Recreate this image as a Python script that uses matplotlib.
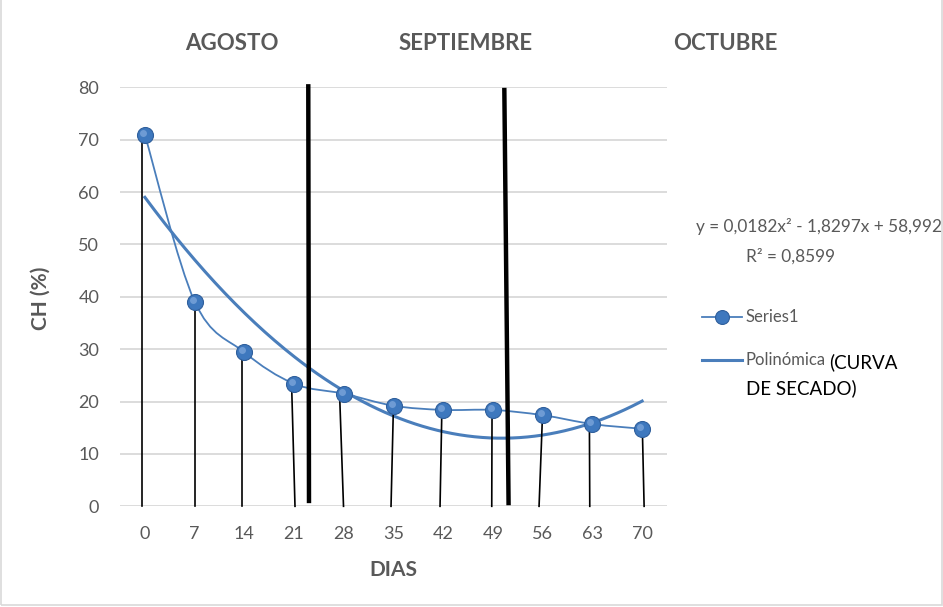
import numpy as np
import matplotlib
matplotlib.use('Agg')
import matplotlib.pyplot as plt
from matplotlib.path import Path
from matplotlib.patches import PathPatch, Rectangle
from matplotlib.lines import Line2D
from matplotlib.transforms import ScaledTranslation

plt.rcParams['font.family'] = ['Lato', 'DejaVu Sans']

# datos
dias = [0, 7, 14, 21, 28, 35, 42, 49, 56, 63, 70]
ch = [70.9, 39.1, 29.4, 23.4, 21.5, 19.2, 18.4, 18.4, 17.4, 15.7, 14.8]
coef = [0.0182, -1.8297, 58.992]  # y = 0,0182x2 - 1,8297x + 58,992
r2 = 0.8599
meses = ['AGOSTO', 'SEPTIEMBRE', 'OCTUBRE']

# lineas verticales dibujadas a mano (x arriba, x abajo)
caida_x_arriba = [-0.46, 7.0, 13.66, 20.66, 27.42, 34.98, 41.8, 48.87, 55.96, 62.58, 70.04]
caida_x_abajo = [-0.46, 7.0, 13.66, 21.13, 27.96, 34.65, 41.55, 48.83, 55.49, 62.63, 70.28]
sep_x_arriba = [23.0, 50.6]
sep_x_abajo = [23.1, 51.2]
sep_y_arriba = [80.6, 79.9]
sep_y_abajo = [0.6, 0.2]

azul = '#4A7EBB'
gris = '#595959'

fig = plt.figure(figsize=(9.43, 6.07), dpi=100)
ax = fig.add_axes([0.1273, 0.1659, 0.58, 0.6903])

# linea suavizada tipo Excel (bezier)
def smooth_path(x, y, t=1/6):
    x = np.asarray(x, float)
    y = np.asarray(y, float)
    verts = [(x[0], y[0])]
    codes = [Path.MOVETO]
    n = len(x)
    for i in range(n - 1):
        i0 = max(i - 1, 0)
        i3 = min(i + 2, n - 1)
        c1 = (x[i] + (x[i + 1] - x[i0]) * t, y[i] + (y[i + 1] - y[i0]) * t)
        c2 = (x[i + 1] - (x[i3] - x[i]) * t, y[i + 1] - (y[i3] - y[i]) * t)
        verts += [c1, c2, (x[i + 1], y[i + 1])]
        codes += [Path.CURVE4] * 3
    return Path(verts, codes)

ax.add_patch(PathPatch(smooth_path(dias, ch), fc='none', ec=azul, lw=1.3, zorder=3))

xt = np.linspace(0, 70, 200)
ax.plot(xt, np.polyval(coef, xt), color=azul, lw=2.2, zorder=3)

for xa, xb, yv in zip(caida_x_arriba, caida_x_abajo, ch):
    ax.plot([xa, xb], [yv - 0.5, 0], color='black', lw=1.2, zorder=4, clip_on=False)
for xa, xb, ya, yb in zip(sep_x_arriba, sep_x_abajo, sep_y_arriba, sep_y_abajo):
    ax.plot([xa, xb], [ya, yb], color='black', lw=3.2, zorder=5, clip_on=False,
            solid_capstyle='butt')

ax.plot(dias, ch, ls='none', marker='o', ms=11.5, mfc='#3E78BE', mec='#2F5F9C',
        mew=0.8, zorder=6, clip_on=False)
hl = ax.transData + ScaledTranslation(-2 / 100, 2 / 100, fig.dpi_scale_trans)
ax.plot(dias, ch, ls='none', marker='o', ms=5, mfc='#8FB4E3', mec='none',
        alpha=0.6, zorder=7, transform=hl, clip_on=False)

ax.set_xlim(-3.5, 73.5)
ax.set_ylim(0, 80)
ax.set_xticks(dias)
ax.set_yticks(range(0, 81, 10))
ax.tick_params(length=0, labelsize=13, colors=gris)
ax.tick_params(axis='x', pad=14)
ax.tick_params(axis='y', pad=15)
ax.grid(axis='y', color='#D9D9D9', lw=1.3)
ax.set_axisbelow(True)
for s in ax.spines.values():
    s.set_visible(False)

fig.text(0.0435, 0.509, 'CH (%)', rotation=90, ha='center', va='center',
         fontsize=15, fontweight='bold', color=gris)
fig.text(0.4168, 0.061, 'DIAS', ha='center', va='center',
         fontsize=15, fontweight='bold', color=gris)

for xm, m in zip([0.246, 0.494, 0.769], meses):
    fig.text(xm, 0.929, m, ha='center', va='center', fontsize=16,
             fontweight='bold', color=gris)

# ecuacion de la tendencia
eq = 'y = {}x² - {}x + {}'.format(f'{coef[0]:.4f}', f'{-coef[1]:.4f}',
                                  f'{coef[2]:.3f}').replace('.', ',')
fig.text(0.9985, 0.627, eq, ha='right', va='center', fontsize=12.4, color=gris)
fig.text(0.838, 0.578, 'R² = ' + f'{r2:.4f}'.replace('.', ','), ha='center',
         va='center', fontsize=12.4, color=gris)

# leyenda manual
fig.add_artist(Line2D([0.744, 0.787], [0.478, 0.478], color=azul, lw=1.3))
fig.add_artist(Line2D([0.7655], [0.478], marker='o', ms=10, mfc='#3E78BE',
                      mec='#2F5F9C', mew=0.8))
fig.text(0.791, 0.478, 'Series1', ha='left', va='center', fontsize=12, color=gris)
fig.add_artist(Line2D([0.744, 0.787], [0.407, 0.407], color=azul, lw=2.2))
fig.text(0.791, 0.407, 'Polinómica', ha='left', va='center', fontsize=12, color=gris)
fig.text(0.879, 0.404, '(CURVA', ha='left', va='center', fontsize=13.5, color='black')
fig.text(0.791, 0.361, 'DE SECADO)', ha='left', va='center', fontsize=13.5, color='black')

fig.add_artist(Rectangle((0.001, 0.003), 0.998, 1.2, transform=fig.transFigure,
                         fill=False, ec='#D9D9D9', lw=1.2))

fig.savefig('out.png', dpi=100)
